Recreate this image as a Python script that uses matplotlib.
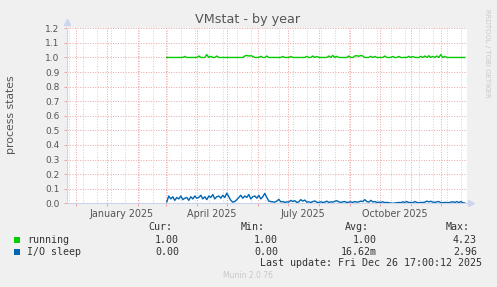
import numpy as np
import matplotlib
matplotlib.use("Agg")
import matplotlib.pyplot as plt
from matplotlib.patches import Rectangle
import matplotlib.dates as mdates

W, H = 497, 287

# ---- data ----
start_date = np.datetime64("2025-03-02")
step_days = 2
running = [
    1, 1, 1, 1, 1, 1, 1, 1, 1, 1.007,
    1, 1, 1, 1, 1, 1, 1.01, 1, 1, 1,
    1.02, 1, 1.008, 1, 1, 1.01, 1, 1, 1, 1,
    1, 1, 1, 1, 1, 1, 1, 1, 1, 1.01,
    1.014, 1.01, 1.012, 1.008, 1, 1, 1, 1.008, 1, 1,
    1.01, 1, 1, 1, 1, 1, 1, 1, 1.007, 1,
    1, 1, 1.007, 1, 1, 1, 1, 1, 1, 1,
    1.008, 1, 1, 1.01, 1, 1.007, 1, 1, 1, 1,
    1, 1.01, 1, 1.014, 1, 1.008, 1, 1, 1, 1,
    1, 1.01, 1, 1, 1.01, 1.012, 1.008, 1.014, 1.01, 1,
    1, 1, 1.008, 1, 1.007, 1, 1, 1, 1, 1.01,
    1, 1, 1, 1.007, 1, 1, 1.007, 1, 1, 1,
    1, 1.008, 1, 1.007, 1, 1, 1, 1.008, 1, 1.01,
    1, 1.012, 1, 1.008, 1, 1.01, 1, 1.02, 1, 1.007,
    1, 1, 1, 1, 1, 1, 1, 1, 1, 1,
]
io_sleep = [
    0.010, 0.050, 0.030, 0.045, 0.020, 0.040, 0.030, 0.050, 0.025, 0.035,
    0.040, 0.020, 0.045, 0.030, 0.050, 0.035, 0.040, 0.055, 0.030, 0.045,
    0.025, 0.050, 0.040, 0.060, 0.030, 0.045, 0.050, 0.035, 0.055, 0.040,
    0.070, 0.045, 0.020, 0.008, 0.012, 0.025, 0.040, 0.055, 0.035, 0.050,
    0.040, 0.060, 0.030, 0.045, 0.050, 0.035, 0.055, 0.030, 0.045, 0.068,
    0.040, 0.015, 0.012, 0.010, 0.008, 0.015, 0.027, 0.010, 0.012, 0.006,
    0.010, 0.008, 0.020, 0.012, 0.018, 0.006, 0.010, 0.025, 0.015, 0.022,
    0.008, 0.010, 0.006, 0.012, 0.016, 0.008, 0.005, 0.010, 0.006, 0.008,
    0.015, 0.006, 0.010, 0.008, 0.014, 0.018, 0.010, 0.006, 0.010, 0.012,
    0.006, 0.008, 0.010, 0.006, 0.012, 0.008, 0.010, 0.015, 0.012, 0.025,
    0.012, 0.008, 0.020, 0.010, 0.012, 0.006, 0.008, 0.006, 0.010, 0.005,
    0.006, 0.004, 0.002, 0.000, 0.002, 0.004, 0.006, 0.004, 0.010, 0.006,
    0.012, 0.005, 0.006, 0.004, 0.012, 0.006, 0.004, 0.006, 0.005, 0.008,
    0.015, 0.010, 0.014, 0.008, 0.006, 0.010, 0.012, 0.005, 0.004, 0.006,
    0.005, 0.004, 0.008, 0.010, 0.006, 0.012, 0.005, 0.012, 0.004, 0.002,
]
series_names = ["running", "I/O sleep"]
series_colors = ["#00CC00", "#0066B3"]
cur_vals = ["1.00", "0.00"]
min_vals = ["1.00", "0.00"]
avg_vals = ["1.00", "16.62m"]
max_vals = ["4.23", "2.96"]
y_ticks = [0.0, 0.1, 0.2, 0.3, 0.4, 0.5, 0.6, 0.7, 0.8, 0.9, 1.0, 1.1, 1.2]
x_label_dates = ["2025-01-16", "2025-04-16", "2025-07-16", "2025-10-16"]
x_label_texts = ["January 2025", "April 2025", "July 2025", "October 2025"]
end_time = np.datetime64("2025-12-26T17:00")
span_days = 400

dates = start_date + np.arange(len(running)) * np.timedelta64(step_days, "D")
t = dates.astype("datetime64[m]").astype(object)

def fx(px):
    return px / W

def fy(py):
    return 1 - py / H

fig = plt.figure(figsize=(W / 100, H / 100), dpi=100, facecolor="#F0F0F0")
L, R, T, B = 66.5, 466.5, 28.3, 203.3
ax = fig.add_axes([fx(L), fy(B), (R - L) / W, (B - T) / H])
ax.set_facecolor("white")

x0 = (end_time - np.timedelta64(span_days, "D")).astype(object)
x1 = end_time.astype(object)
ax.set_xlim(x0, x1)
ax.set_ylim(0, 1.2)

# grid lines
mgrid = "#E9A3A3"
grid = "#D2D2D2"
dot = (0, (1, 1.6))
months = np.arange(np.datetime64("2024-12"), np.datetime64("2026-01"), np.timedelta64(1, "M"))
minor_days = np.arange(np.datetime64("2024-11-24"), np.datetime64("2025-12-27"), np.timedelta64(14, "D"))
for d in minor_days:
    ax.axvline(d.astype(object), color=grid, lw=0.7, ls=dot, zorder=1)
for m in months:
    ax.axvline(m.astype("datetime64[D]").astype(object), color=mgrid, lw=0.7, ls=dot, zorder=1.5)
for yv in y_ticks[1:]:
    ax.axhline(yv, color=mgrid, lw=0.7, ls=dot, zorder=1.5)

ax.set_yticks(y_ticks)
ax.set_yticklabels([f"{v:.1f}" for v in y_ticks])
ax.tick_params(axis="y", length=2, width=0.7, color=mgrid, labelsize=6.5, labelcolor="#555555", pad=3)
ax.set_xticks([m.astype("datetime64[D]").astype(object) for m in months])
ax.set_xticklabels([])
ax.tick_params(axis="x", length=2, width=0.7, color=mgrid)
ax.set_xlim(x0, x1)

for d, s in zip(x_label_dates, x_label_texts):
    ax.text(np.datetime64(d).astype(object), -0.06, s, transform=ax.get_xaxis_transform(),
            ha="center", va="center", fontsize=6.9, color="#555555")

for sp in ["top", "right"]:
    ax.spines[sp].set_visible(False)
for sp in ["left", "bottom"]:
    ax.spines[sp].set_color("#CCD4EE")
    ax.spines[sp].set_linewidth(0.8)
ax.plot([0], [1.035], marker="^", color="#CCD4EE", ms=4, transform=ax.transAxes, clip_on=False)
ax.plot([1.012], [0], marker=">", color="#CCD4EE", ms=4, transform=ax.transAxes, clip_on=False)

ax.plot(t, running, color=series_colors[0], lw=1.0, zorder=3)
ax.plot(t, io_sleep, color=series_colors[1], lw=1.0, zorder=3)

# texts
fig.text(fx(248), fy(19), "VMstat - by year", ha="center", va="center", fontsize=9.2, color="#555555")
fig.text(fx(11), fy(115), "process states", ha="center", va="center", rotation=90, fontsize=7.8, color="#555555")
fig.text(fx(487.5), fy(53.5), "RRDTOOL / TOBI OETIKER", ha="center", va="center", rotation=270,
         fontsize=5.0, color="#C8C8C8")
fig.text(fx(248), fy(276), "Munin 2.0.76", ha="center", va="center", fontsize=5.5, color="#C8C8C8")

mono = dict(family="DejaVu Sans Mono", fontsize=7.2, color="#333333", va="center")
hdr_y = 226.5
for label, xr in zip(["Cur:", "Min:", "Avg:", "Max:"], [172, 265, 369, 470]):
    fig.text(fx(xr), fy(hdr_y), label, ha="right", **mono)
row_ys = [240.3, 252.3]
for i in range(2):
    y = row_ys[i]
    fig.patches.append(Rectangle((fx(14), fy(y + 3)), 6 / W, 6 / H, transform=fig.transFigure,
                                 facecolor=series_colors[i], edgecolor="none"))
    fig.text(fx(27), fy(y), series_names[i], ha="left", **mono)
    for val, xr in zip([cur_vals[i], min_vals[i], avg_vals[i], max_vals[i]], [179, 278, 377, 477]):
        fig.text(fx(xr), fy(y), val, ha="right", **mono)
fig.text(fx(482), fy(263.5), "Last update: Fri Dec 26 17:00:12 2025", ha="right", **mono)

fig.savefig("out.png", dpi=100, facecolor=fig.get_facecolor())
